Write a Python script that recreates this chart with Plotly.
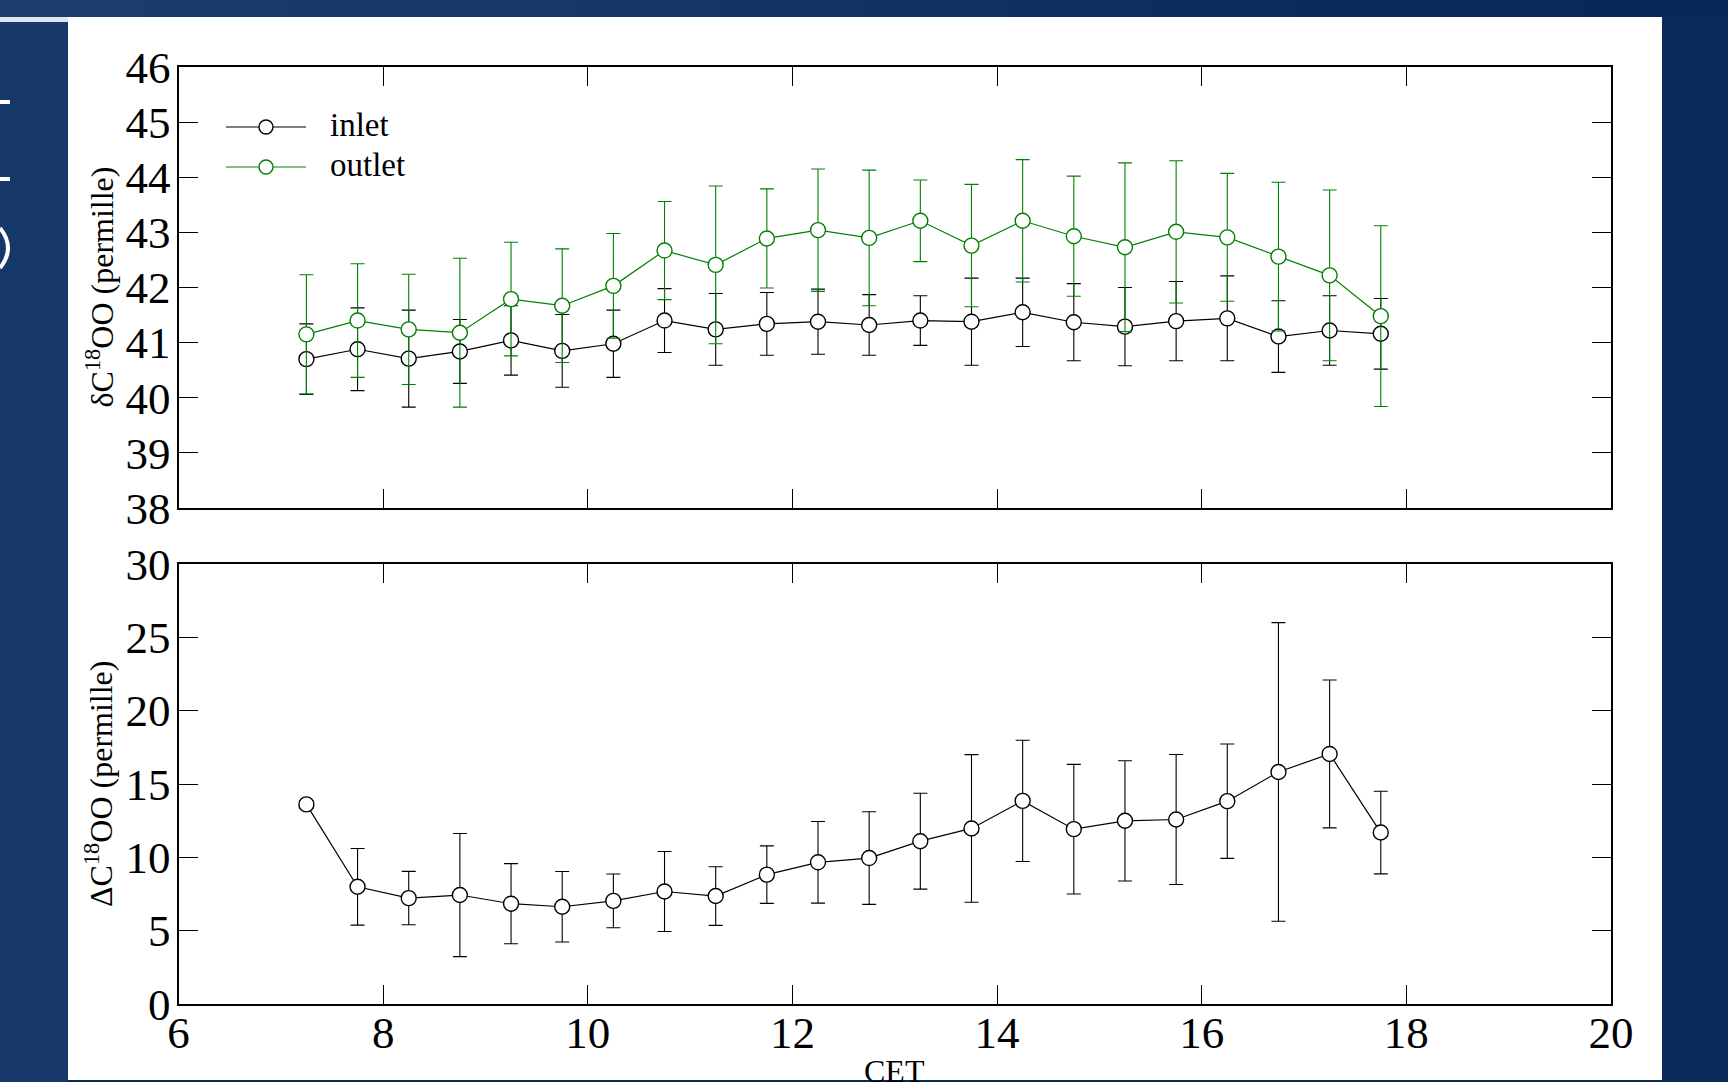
import plotly.graph_objects as go

# ---------------- data ----------------
cet_hours = [7.25, 7.75, 8.25, 8.75, 9.25, 9.75, 10.25, 10.75, 11.25, 11.75, 12.25,
             12.75, 13.25, 13.75, 14.25, 14.75, 15.25, 15.75, 16.25, 16.75, 17.25, 17.75]

inlet = [40.70, 40.88, 40.71, 40.84, 41.04, 40.85, 40.98, 41.40, 41.24, 41.34, 41.38,
         41.32, 41.40, 41.38, 41.55, 41.37, 41.29, 41.39, 41.44, 41.11, 41.22, 41.16]
inlet_err = [0.64, 0.75, 0.88, 0.58, 0.63, 0.66, 0.61, 0.58, 0.65, 0.57, 0.59,
             0.55, 0.45, 0.79, 0.62, 0.70, 0.71, 0.72, 0.77, 0.65, 0.63, 0.64]

outlet = [41.15, 41.40, 41.24, 41.18, 41.79, 41.67, 42.03, 42.67, 42.41, 42.89, 43.04,
          42.90, 43.21, 42.76, 43.21, 42.93, 42.73, 43.01, 42.91, 42.56, 42.22, 41.48]
outlet_err = [1.08, 1.03, 1.00, 1.35, 1.03, 1.03, 0.95, 0.89, 1.43, 0.90, 1.11,
              1.23, 0.74, 1.11, 1.11, 1.09, 1.53, 1.29, 1.16, 1.35, 1.55, 1.64]

delta = [13.61, 7.99, 7.22, 7.43, 6.84, 6.63, 7.03, 7.67, 7.36, 8.82, 9.66,
         9.95, 11.10, 11.97, 13.85, 11.92, 12.49, 12.58, 13.83, 15.82, 17.05, 11.69]
delta_err = [0.25, 2.61, 1.82, 4.20, 2.73, 2.40, 1.83, 2.73, 2.00, 1.96, 2.78,
             3.16, 3.27, 5.03, 4.13, 4.42, 4.10, 4.43, 3.90, 10.18, 5.04, 2.82]

x_ticks = [6, 8, 10, 12, 14, 16, 18, 20]
y1_ticks = [38, 39, 40, 41, 42, 43, 44, 45, 46]
y2_ticks = [0, 5, 10, 15, 20, 25, 30]

series_names = ["inlet", "outlet"]
x_title = "CET"
y1_title = "δC<sup>18</sup>OO (permille)"
y2_title = "ΔC<sup>18</sup>OO (permille)"

# ---------------- styling ----------------
W, H = 1728, 1082
FONT = "Liberation Serif, Times New Roman, serif"
GREEN = "#008000"
BLACK = "#000000"


def px(x):
    return x / W


def py(y):
    return 1 - y / H


AX_L, AX_R = 178.5, 1611
P1_T, P1_B = 67, 508
P2_T, P2_B = 564, 1004

fig = go.Figure()


def add_series(y, err, color, name, xa, ya):
    fig.add_trace(go.Scatter(
        x=cet_hours, y=y, name=name, mode="lines+markers",
        xaxis=xa, yaxis=ya, showlegend=False,
        line=dict(color=color, width=1.2),
        marker=dict(symbol="circle", size=15, color="white",
                    line=dict(color=color, width=1.4)),
        error_y=dict(type="data", array=err, visible=True,
                     color=color, thickness=1.1, width=7),
    ))


add_series(inlet, inlet_err, BLACK, series_names[0], "x", "y")
add_series(outlet, outlet_err, GREEN, series_names[1], "x", "y")
add_series(delta, delta_err, BLACK, "delta", "x2", "y2")

common_axis = dict(
    showgrid=False, zeroline=False, showline=True, linecolor=BLACK, linewidth=2,
    mirror="ticks", ticks="inside", ticklen=19, tickwidth=1, tickcolor=BLACK,
    automargin=False,
    tickfont=dict(family=FONT, size=45, color=BLACK),
)

fig.update_layout(
    template="none",
    width=W, height=H, autosize=False,
    margin=dict(l=0, r=0, t=0, b=0, pad=0),
    paper_bgcolor="#0a2858",
    plot_bgcolor="rgba(0,0,0,0)",
    showlegend=False,
    xaxis=dict(domain=[px(AX_L), px(AX_R)], range=[6, 20], tickvals=x_ticks,
               showticklabels=False, anchor="y", **common_axis),
    yaxis=dict(domain=[py(P1_B), py(P1_T)], range=[38, 46], tickvals=y1_ticks,
               anchor="x", ticklabelstandoff=-3, **common_axis),
    xaxis2=dict(domain=[px(AX_L), px(AX_R)], range=[6, 20], tickvals=x_ticks,
                anchor="y2", ticklabelstandoff=-12, **common_axis),
    yaxis2=dict(domain=[py(P2_B), py(P2_T)], range=[0, 30], tickvals=y2_ticks,
                anchor="x2", ticklabelstandoff=-3, **common_axis),
)

shapes = []
# top band gradient
n_seg = 12
c0 = (0x1b, 0x3d, 0x70)
c1 = (0x09, 0x27, 0x56)
for i in range(n_seg):
    t = i / (n_seg - 1)
    col = "rgb(%d,%d,%d)" % tuple(round(a + (b - a) * t) for a, b in zip(c0, c1))
    shapes.append(dict(type="rect", xref="paper", yref="paper", layer="below",
                       x0=px(W * i / n_seg), x1=px(W * (i + 1) / n_seg) + 0.001,
                       y0=py(17), y1=py(0), fillcolor=col, line_width=0))
# left column
shapes.append(dict(type="rect", xref="paper", yref="paper", layer="below",
                   x0=0, x1=px(68), y0=0, y1=py(22), fillcolor="#15376a", line_width=0))
shapes.append(dict(type="rect", xref="paper", yref="paper", layer="below",
                   x0=0, x1=px(68), y0=py(22), y1=py(17), fillcolor="#dfe5ee", line_width=0))
# white panel
shapes.append(dict(type="rect", xref="paper", yref="paper", layer="below",
                   x0=px(68), x1=px(1662), y0=py(1080), y1=py(17),
                   fillcolor="white", line_width=0))
# fragments of slide text in the left column
for yy in (100, 177):
    shapes.append(dict(type="rect", xref="paper", yref="paper", layer="above",
                       x0=0, x1=px(10), y0=py(yy + 4), y1=py(yy), fillcolor="white", line_width=0))
shapes.append(dict(type="path", xref="paper", yref="paper", layer="above",
                   path="M 0 %f Q %f %f 0 %f" % (py(228), px(16), py(248), py(268)),
                   line=dict(color="white", width=4)))

# manual legend (matplotlib style)
legend_rows = [(127, BLACK), (167, GREEN)]
annotations = []
for (yy, col), name in zip(legend_rows, series_names):
    shapes.append(dict(type="line", xref="paper", yref="paper", layer="above",
                       x0=px(226), x1=px(306), y0=py(yy), y1=py(yy),
                       line=dict(color=col, width=1.2)))
    shapes.append(dict(type="circle", xref="paper", yref="paper", layer="above",
                       xsizemode="pixel", ysizemode="pixel",
                       xanchor=px(266), yanchor=py(yy), x0=-7, x1=7, y0=-7, y1=7,
                       fillcolor="white", line=dict(color=col, width=1.4)))
    annotations.append(dict(text=name, xref="paper", yref="paper", x=px(328), y=py(yy - 2),
                            xanchor="left", yanchor="middle", showarrow=False,
                            font=dict(family=FONT, size=33, color=BLACK)))

annotations.append(dict(text=y1_title, xref="paper", yref="paper", x=px(99),
                        y=py((P1_T + P1_B) / 2), textangle=-90, showarrow=False,
                        xanchor="center", yanchor="middle",
                        font=dict(family=FONT, size=32, color=BLACK)))
annotations.append(dict(text=y2_title, xref="paper", yref="paper", x=px(99),
                        y=py((P2_T + P2_B) / 2), textangle=-90, showarrow=False,
                        xanchor="center", yanchor="middle",
                        font=dict(family=FONT, size=32, color=BLACK)))
annotations.append(dict(text=x_title, xref="paper", yref="paper", x=px((AX_L + AX_R) / 2),
                        y=py(1051), xanchor="center", yanchor="top", showarrow=False,
                        font=dict(family=FONT, size=32, color=BLACK)))

fig.update_layout(shapes=shapes, annotations=annotations)

fig.write_html("out.html", config={"displayModeBar": False},
               post_script="document.body.style.margin='0';document.body.style.overflow='hidden';")
